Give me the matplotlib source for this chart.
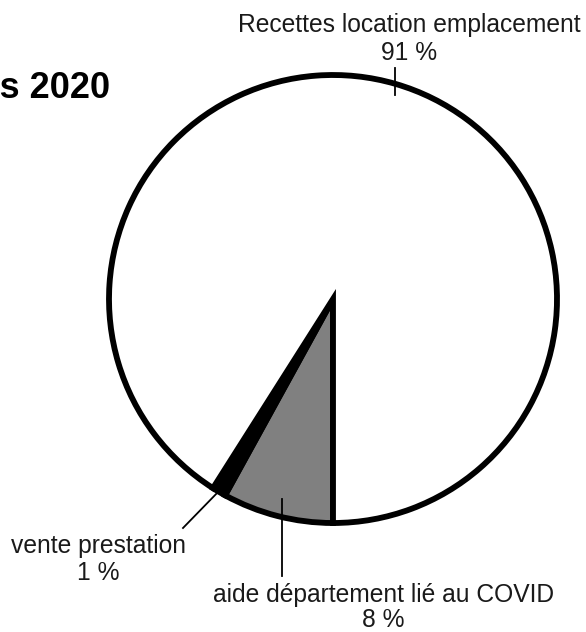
import numpy as np
import matplotlib
matplotlib.use("Agg")
import matplotlib.pyplot as plt

plt.rcParams['font.family'] = ['Liberation Sans', 'DejaVu Sans']

# Data
labels = ["aide département lié au COVID", "vente prestation", "Recettes location emplacement"]
values = [8, 1, 91]
pct_labels = ["8 %", "1 %", "91 %"]
colors = ["#808080", "#000000", "#ffffff"]
title = "Répartition des recettes 2020"

W, H = 586, 632
fig = plt.figure(figsize=(W / 100, H / 100), dpi=100)

# pie geometry in pixels
cx, cy, R = 333, 299, 224
lim = 1.15
size = 2 * R * lim
ax = fig.add_axes([(cx - size / 2) / W, (H - cy - size / 2) / H, size / W, size / H])

wedges, _ = ax.pie(values, colors=colors, startangle=270, counterclock=False,
                   radius=1.0, wedgeprops=dict(edgecolor='black', linewidth=4.2,
                                               joinstyle='miter'))
ax.set_xlim(-lim, lim)
ax.set_ylim(-lim, lim)
ax.set_aspect('equal')
ax.axis('off')


def px2d(px, py):
    return ((px - cx) / R, (cy - py) / R)


def label(px, py1, py2, name, pct):
    x, y1 = px2d(px, py1)
    _, y2 = px2d(px, py2)
    ax.text(x, y1, name, ha='center', va='baseline', fontsize=fs, color='#1a1a1a')
    ax.text(x, y2, pct, ha='center', va='baseline', fontsize=fs, color='#1a1a1a')


# mid angles of wedges
mids = [np.deg2rad((w.theta1 + w.theta2) / 2) for w in wedges]

fs = 17.7
# aide (index 0): vertical line down
a = mids[0]
x0, y0 = np.cos(a) * 0.92, np.sin(a) * 0.92
ax.plot([x0, x0], [y0, px2d(0, 576)[1]], color='black', lw=1.3, clip_on=False)
label(383.5, 602, 627, labels[0], pct_labels[0])

# vente (index 1): diagonal line down-left
a = mids[1]
x0, y0 = np.cos(a) * 0.99, np.sin(a) * 0.99
x1, y1 = px2d(183, 528)
ax.plot([x0, x1], [y0, y1], color='black', lw=1.3, clip_on=False)
label(98.5, 553, 580, labels[1], pct_labels[1])

# recettes (index 2): short vertical tick across ring
a = mids[2]
x0, y0 = np.cos(a), np.sin(a)
ax.plot([x0, x0], [y0 - 0.05, y0 + 0.07], color='black', lw=1.3, clip_on=False)
label(409, 32, 60, labels[2], pct_labels[2])

fig.text(110 / W, 1 - 98 / H, title, ha='right', va='baseline',
         fontsize=26, fontweight='bold', color='black')

fig.savefig("out.png", dpi=100)
